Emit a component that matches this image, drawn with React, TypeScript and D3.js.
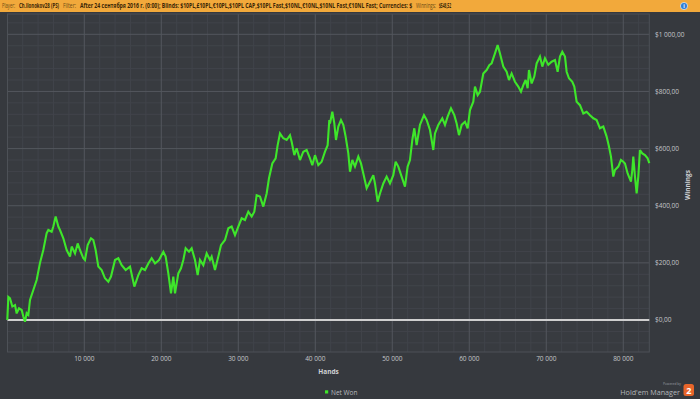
import React, { useLayoutEffect, useRef, useState } from "react";
import * as d3 from "d3";

const W = 700;
const H = 399;

// hands played (x) and net won in $ (y)
const hands: number[] = [
  0, 134, 351, 654, 1000, 1217, 1520, 1866, 2082, 2299, 2515, 2731, 2948, 3381, 3814, 4247, 4679, 5112, 5329, 5762,
  5978, 6282, 6628, 6844, 7277, 7710, 8143, 8360, 8792, 9139, 9441, 9874, 10091, 10437, 10870, 11173, 11476, 11822, 12255, 12688,
  13121, 13467, 13987, 14420, 14853, 15373, 15935, 16498, 17017, 17450, 17883, 18316, 18749, 19182, 19701, 20264, 20567,
  20913, 21260, 21562, 21779, 22211, 22558, 22861, 23164, 23597, 23943, 24376, 24723, 25026, 25459, 25892, 26325, 26541, 26974,
  27407, 27753, 28273, 28705, 29138, 29571, 30004, 30437, 30870, 31303, 31736, 32082, 32385, 32818, 33251, 33684, 33987, 34420,
  34853, 35113, 35415, 35848, 36281, 36714, 36931, 37277, 37580, 38013, 38446, 38879, 39312, 39615, 39961, 40394, 40827, 41260,
  41606, 41822,
  41909, 42212, 42472, 42688, 42991, 43337, 43640, 43943, 44290, 44506, 44809, 45155, 45588, 45935, 46238, 46671, 47104, 47536,
  47753, 48099, 48402, 48835, 49268, 49701, 50134, 50437, 50783, 51216, 51649, 51995, 52298, 52601, 52861, 53164, 53597, 54116,
  54463, 54896, 55328, 55545, 55978, 56497, 56843, 57190, 57623, 58056, 58359, 58662, 59009, 59442, 59788, 60091, 60524, 60740,
  61087, 61390, 61822, 62255, 62601,
  62904, 63337, 63683, 63986, 64419, 64852, 65155, 65501, 65934, 66367, 66714, 67017, 67320, 67580, 67753, 68099, 68445, 68749,
  69182, 69485, 69831, 70264, 70697, 71130, 71476, 71779, 72082, 72429, 72645, 72948, 73381, 73641, 73944, 74377, 74810, 75243,
  75676, 76109, 76542, 76975, 77408, 77840, 78143, 78403, 78706, 78922, 79355, 79701, 80004, 80221, 80567, 81000, 81173, 81303,
  81520, 81736, 81952, 82169, 82472, 82818, 83165, 83381,
];

const netWon: number[] = [
  0, 81, 76, 47, 52, 23, 41, 35, 12, -6, 24, 18, 70, 105, 140, 200, 245, 304, 315, 309,
  327, 362, 327, 315, 286, 245, 222, 257, 233, 268, 245, 216, 210, 262, 286, 280, 245, 187, 175, 146,
  134, 152, 210, 216, 192, 175, 187, 117, 157, 181, 175, 198, 216, 198, 210, 239, 222,
  163, 93, 152, 93, 163, 181, 210, 251, 239, 251, 210, 157, 210, 192, 233, 210, 222, 175,
  222, 262, 280, 321, 327, 297, 327, 356, 350, 379, 362, 379, 437, 432, 397, 443, 496, 548,
  566, 612, 653, 636, 630, 647, 624, 577, 601, 560, 589, 595, 566, 542, 577, 542, 554, 589,
  612, 700,
  688, 729, 688, 630, 677, 700, 683, 642, 583, 519, 560, 537, 572, 548, 513, 461, 484, 507,
  478, 414, 443, 478, 502, 478, 507, 554, 537, 502, 467, 537, 560, 630, 671, 612, 683, 717,
  700, 665, 595, 653, 683, 706, 683, 712, 741, 717, 688, 647, 683, 694, 671, 735, 764, 817,
  787, 799, 863, 875, 892,
  898, 933, 962, 933, 887, 869, 840, 863, 834, 817, 799, 822, 840, 811, 875, 828, 852, 898,
  922, 887, 916, 893, 904, 910, 869, 922, 939, 922, 869, 846, 834, 817, 764, 752, 723, 729,
  717, 706, 700, 671, 677, 642, 607, 572, 502, 525, 537, 560, 554, 548, 513, 484, 525, 572,
  502, 443, 502, 595, 583, 577, 566, 549,
];

const xTicks: number[] = [10000, 20000, 30000, 40000, 50000, 60000, 70000, 80000];
const xTickLabels: string[] = ["10 000", "20 000", "30 000", "40 000", "50 000", "60 000", "70 000", "80 000"];
const yTicks: number[] = [0, 200, 400, 600, 800, 1000];
const yTickLabels: string[] = ["$0,00", "$200,00", "$400,00", "$600,00", "$800,00", "$1 000,00"];

const headerSegments: { text: string; x: number; len: number; bold: boolean }[] = [
  { text: "Player:", x: 2, len: 13, bold: false },
  { text: "Ch.ilonokov28 (PS)", x: 19, len: 40, bold: true },
  { text: "Filter:", x: 63, len: 13, bold: false },
  {
    text: "After 24 сентября 2016 г. (0:00); Blinds: $10PL,£10PL,€10PL,$10PL CAP,$10PL Fast,$10NL,€10NL,$10NL Fast,€10NL Fast; Currencies: $",
    x: 80,
    len: 332,
    bold: true,
  },
  { text: "Winnings:", x: 416, len: 20, bold: false },
  { text: "$548,52", x: 439, len: 12, bold: true },
];

const font = "'Open Sans', 'DejaVu Sans', sans-serif";

function FitText(props: { text: string; x: number; y: number; len: number; bold: boolean }) {
  const ref = useRef<SVGTextElement>(null);
  const [s, setS] = useState(1);
  useLayoutEffect(() => {
    if (ref.current) {
      const w = ref.current.getComputedTextLength();
      if (w > 0) setS(props.len / w);
    }
  }, [props.text, props.len]);
  return (
    <text
      ref={ref}
      transform={`translate(${props.x}, ${props.y}) scale(${s}, 1)`}
      fontSize={6.2}
      fontFamily={font}
      fontWeight={props.bold ? 700 : 400}
      fill={props.bold ? "#3a2606" : "#6b4a14"}
    >
      {props.text}
    </text>
  );
}

export default function App() {
  const plotLeft = 7.5;
  const plotRight = 649.3;
  const plotTop = 14;
  const plotBottom = 352;

  const x = d3.scaleLinear().domain([0, 83381]).range([7.3, 649.3]);
  const y = d3.scaleLinear().domain([0, 1000]).range([320, 34.3]);

  const vMinor = d3.range(2000, 83381, 2000).filter((v) => v % 10000 !== 0);
  const yMinVal = y.invert(plotBottom);
  const yMaxVal = y.invert(plotTop);
  const hMinor = d3.range(Math.ceil(yMinVal / 40) * 40, yMaxVal, 40).filter((v) => v % 200 !== 0);

  const pts = hands.map((h, i) => [h, netWon[i]] as [number, number]);
  const line = d3
    .line<[number, number]>()
    .x((d) => x(d[0]))
    .y((d) => y(d[1]));

  return (
    <svg width={W} height={H} style={{ position: "absolute", left: 0, top: 0, display: "block" }}>
      <rect x={0} y={0} width={W} height={H} fill="#36393e" />
      {/* header bar */}
      <rect x={0} y={0} width={W} height={12} fill="#f2a93b" />
      {headerSegments.map((s, i) => (
        <FitText key={i} text={s.text} x={s.x} y={8} len={s.len} bold={s.bold} />
      ))}
      <circle cx={684} cy={6} r={3.6} fill="#2f7fd6" stroke="#ffffff" strokeWidth={0.6} />
      <text x={684} y={8} fontSize={5} fill="#fff" textAnchor="middle" fontFamily={font} fontWeight={700}>
        i
      </text>

      {/* plot area */}
      <rect x={plotLeft} y={plotTop} width={plotRight - plotLeft} height={plotBottom - plotTop} fill="#383b40" />
      {vMinor.map((v) => (
        <line key={"vm" + v} x1={x(v)} x2={x(v)} y1={plotTop} y2={plotBottom} stroke="#41444a" strokeWidth={1} />
      ))}
      {hMinor.map((v) => (
        <line key={"hm" + v} x1={plotLeft} x2={plotRight} y1={y(v)} y2={y(v)} stroke="#41444a" strokeWidth={1} />
      ))}
      {xTicks.map((v) => (
        <line key={"vx" + v} x1={x(v)} x2={x(v)} y1={plotTop} y2={plotBottom} stroke="#53575d" strokeWidth={1} />
      ))}
      {yTicks
        .filter((v) => v !== 0)
        .map((v) => (
          <line key={"hy" + v} x1={plotLeft} x2={plotRight} y1={y(v)} y2={y(v)} stroke="#53575d" strokeWidth={1} />
        ))}
      <rect
        x={plotLeft}
        y={plotTop}
        width={plotRight - plotLeft}
        height={plotBottom - plotTop}
        fill="none"
        stroke="#4d5157"
        strokeWidth={1}
      />
      {/* zero line */}
      <line x1={plotLeft} x2={plotRight} y1={y(0)} y2={y(0)} stroke="#cfcfcf" strokeWidth={2} />

      {/* series */}
      <path d={line(pts) || ""} fill="none" stroke="#3ee62a" strokeWidth={2.1} strokeLinejoin="miter" strokeMiterlimit={3} />

      {/* y axis labels */}
      {yTicks.map((v, i) => (
        <text key={"yl" + v} x={655} y={y(v) + 2.3} fontSize={6.5} fill="#c4c6c9" fontFamily={font}>
          {yTickLabels[i]}
        </text>
      ))}
      {/* x axis labels */}
      {xTicks.map((v, i) => (
        <text key={"xl" + v} x={x(v)} y={360.5} fontSize={6.5} fill="#c4c6c9" fontFamily={font} textAnchor="middle">
          {xTickLabels[i]}
        </text>
      ))}
      <text x={328.5} y={373.5} fontSize={6.5} fontWeight={700} fill="#d0d2d5" fontFamily={font} textAnchor="middle">
        Hands
      </text>
      <text
        transform={`translate(689.5, 185) rotate(-90)`}
        fontSize={6.5}
        fontWeight={700}
        fill="#d0d2d5"
        fontFamily={font}
        textAnchor="middle"
      >
        Winnings
      </text>

      {/* legend */}
      <rect x={325} y={390.3} width={3.2} height={3.2} fill="#3ee62a" />
      <text x={331} y={394.5} fontSize={6.5} fill="#b9bbbe" fontFamily={font}>
        Net Won
      </text>

      {/* branding */}
      <text x={681} y={385.2} fontSize={3.3} fill="#9a9da1" fontFamily={font} textAnchor="end">
        Powered by
      </text>
      <text x={680} y={394.6} fontSize={7.2} fill="#b4b6b9" fontFamily={font} textAnchor="end">
        Hold'em Manager
      </text>
      <rect x={683.5} y={384} width={10.5} height={12} rx={2.5} fill="#e8652a" />
      <text x={688.8} y={393.5} fontSize={9} fontWeight={700} fill="#ffffff" fontFamily={font} textAnchor="middle">
        2
      </text>
    </svg>
  );
}
